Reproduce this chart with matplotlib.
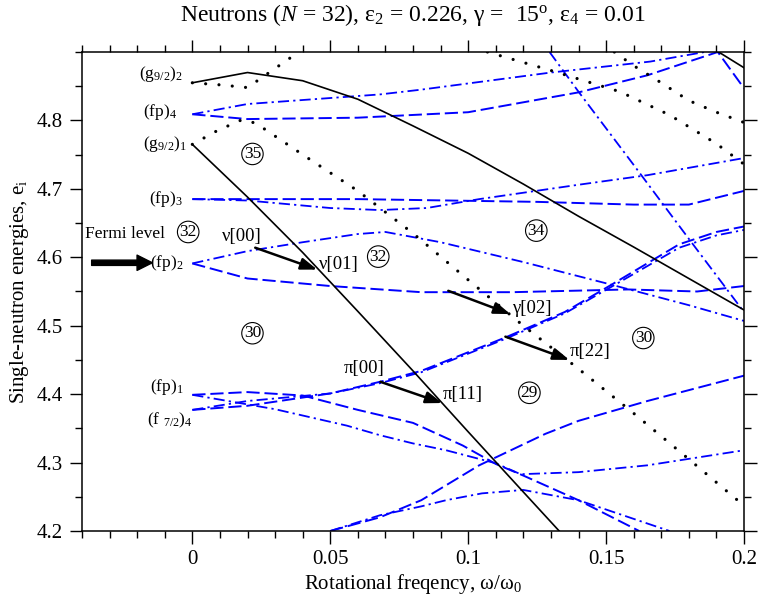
import matplotlib
matplotlib.use("Agg")
import matplotlib.pyplot as plt
from matplotlib.ticker import MultipleLocator, FixedLocator, FixedFormatter

plt.rcParams['font.family'] = ['Liberation Serif', 'DejaVu Serif']
plt.rcParams['mathtext.fontset'] = 'custom'
plt.rcParams['mathtext.rm'] = 'Liberation Serif'
plt.rcParams['mathtext.it'] = 'Liberation Serif:italic'
plt.rcParams['lines.scale_dashes'] = False

BLUE = '#0000ff'

# --- black solid (g9/2) levels ---
g1_x = [0, 0.02, 0.04, 0.06, 0.08, 0.1, 0.12, 0.133]
g1_y = [4.765, 4.688, 4.607, 4.521, 4.434, 4.345, 4.257, 4.2]
g2_x = [0, 0.02, 0.04, 0.06, 0.08, 0.1, 0.12, 0.14, 0.16, 0.18, 0.2]
g2_y = [4.855, 4.870, 4.858, 4.831, 4.792, 4.752, 4.707, 4.660, 4.615, 4.569, 4.523]
g3_x = [0.19, 0.2]
g3_y = [4.902, 4.877]

# --- black dotted (g9/2) partners ---
d1_x = [0, 0.01, 0.02, 0.03, 0.04]
d1_y = [4.855, 4.852, 4.848, 4.876, 4.904]
d2_x = [0, 0.009, 0.018, 0.023, 0.04, 0.06, 0.08, 0.1, 0.12, 0.14, 0.16, 0.18, 0.2]
d2_y = [4.765, 4.785, 4.801, 4.796, 4.750, 4.697, 4.635, 4.567, 4.500, 4.437, 4.372, 4.305, 4.237]
d3_x = [0.107, 0.13, 0.155, 0.173, 0.19, 0.2]
d3_y = [4.9, 4.873, 4.842, 4.808, 4.766, 4.736]
d4_x = [0.153, 0.16, 0.17, 0.18, 0.19, 0.2]
d4_y = [4.9, 4.880, 4.855, 4.829, 4.812, 4.797]

# --- blue dashed (fp) / (f7/2) levels ---
fp4a_x = [0, 0.02, 0.06, 0.1, 0.14, 0.165, 0.1905, 0.2]
fp4a_y = [4.809, 4.802, 4.804, 4.812, 4.841, 4.866, 4.900, 4.847]
fp3a_x = [0, 0.06, 0.125, 0.16, 0.18, 0.2]
fp3a_y = [4.685, 4.685, 4.681, 4.677, 4.677, 4.697]
fp2a_x = [0, 0.02, 0.05, 0.083, 0.116, 0.158, 0.183, 0.2]
fp2a_y = [4.591, 4.569, 4.558, 4.549, 4.549, 4.553, 4.550, 4.558]
fp1a_x = [0, 0.02, 0.04, 0.06, 0.08, 0.098, 0.11, 0.12, 0.14, 0.162]
fp1a_y = [4.399, 4.403, 4.398, 4.377, 4.358, 4.325, 4.298, 4.281, 4.245, 4.2]
f7a_x = [0, 0.02, 0.05, 0.068, 0.083, 0.113, 0.135, 0.152, 0.1765, 0.19, 0.2]
f7a_y = [4.377, 4.383, 4.401, 4.418, 4.434, 4.482, 4.520, 4.560, 4.619, 4.637, 4.645]
low_a_x = [0.05, 0.068, 0.083, 0.104, 0.128, 0.14, 0.165, 0.2]
low_a_y = [4.2, 4.220, 4.245, 4.296, 4.342, 4.361, 4.390, 4.427]

# --- blue dash-dot partners ---
fp4b_x = [0, 0.02, 0.068, 0.083, 0.13, 0.166, 0.19]
fp4b_y = [4.809, 4.824, 4.838, 4.845, 4.870, 4.886, 4.903]
steep_x = [0.1295, 0.14, 0.16, 0.18, 0.2]
steep_y = [4.9, 4.842, 4.735, 4.627, 4.52]
fp3b_x = [0, 0.02, 0.05, 0.068, 0.085, 0.104, 0.14, 0.165, 0.2]
fp3b_y = [4.685, 4.683, 4.672, 4.669, 4.672, 4.685, 4.706, 4.720, 4.745]
fp2b_x = [0, 0.02, 0.04, 0.06, 0.07, 0.09, 0.12, 0.15, 0.18, 0.2]
fp2b_y = [4.591, 4.609, 4.622, 4.634, 4.637, 4.622, 4.593, 4.562, 4.530, 4.507]
fp1b_x = [0, 0.01, 0.03, 0.056, 0.068, 0.08, 0.092, 0.11, 0.119, 0.14, 0.165, 0.2]
fp1b_y = [4.399, 4.392, 4.378, 4.354, 4.340, 4.328, 4.318, 4.299, 4.283, 4.286, 4.296, 4.318]
f7b_x = [0, 0.02, 0.05, 0.068, 0.083, 0.113, 0.135, 0.152, 0.1765, 0.19, 0.2]
f7b_y = [4.377, 4.390, 4.401, 4.416, 4.432, 4.480, 4.518, 4.557, 4.614, 4.632, 4.640]
low_b_x = [0.05, 0.068, 0.083, 0.092, 0.105, 0.12, 0.14, 0.173]
low_b_y = [4.2, 4.223, 4.236, 4.245, 4.255, 4.260, 4.245, 4.2]

# level labels at omega = 0
lev_names = ['(g$_{9/2}$)$_2$', '(fp)$_4$', '(g$_{9/2}$)$_1$', '(fp)$_3$',
             '(fp)$_2$', '(fp)$_1$', '(f $_{7/2}$)$_4$']
lev_y = [4.868, 4.812, 4.765, 4.685, 4.592, 4.41, 4.362]
lev_x = [-0.0036, -0.0054, -0.0018, -0.0033, -0.0033, -0.0033, 0.0]

# circled particle numbers
circ_txt = ['35', '32', '32', '34', '30', '30', '29']
circ_x = [0.0218, -0.0015, 0.0674, 0.1247, 0.0218, 0.1635, 0.1222]
circ_y = [4.751, 4.637, 4.601, 4.639, 4.489, 4.482, 4.402]

# configuration arrows: (start, end) and labels
arr_x0 = [0.0228, 0.0928, 0.1135, 0.0682]
arr_y0 = [4.614, 4.551, 4.484, 4.418]
arr_x1 = [0.0453, 0.1153, 0.1367, 0.0906]
arr_y1 = [4.582, 4.517, 4.450, 4.387]
cfg_txt = ['ν[00]', 'ν[01]', 'γ[02]', 'π[22]', 'π[00]', 'π[11]']
cfg_x = [0.0178, 0.053, 0.123, 0.1443, 0.0624, 0.098]
cfg_y = [4.630, 4.590, 4.525, 4.462, 4.437, 4.399]

fig = plt.figure(figsize=(7.6, 6.05), dpi=100)
ax = fig.add_axes([82 / 760, 1 - 531 / 605, (744 - 82) / 760, (531 - 52) / 605])

dash = dict(color=BLUE, lw=1.4, dashes=(9.5, 3.5))
dashdot = dict(color=BLUE, lw=1.3, dashes=(8, 3, 1.6, 3))
dots = dict(color='black', lw=2.3, dashes=(0.01, 9.6), dash_capstyle='round')
solid = dict(color='black', lw=1.2)

for xs, ys in [(fp4a_x, fp4a_y), (fp3a_x, fp3a_y), (fp2a_x, fp2a_y),
               (fp1a_x, fp1a_y), (f7a_x, f7a_y), (low_a_x, low_a_y)]:
    ax.plot(xs, ys, **dash)
for xs, ys in [(fp4b_x, fp4b_y), (steep_x, steep_y), (fp3b_x, fp3b_y),
               (fp2b_x, fp2b_y), (fp1b_x, fp1b_y), (f7b_x, f7b_y), (low_b_x, low_b_y)]:
    ax.plot(xs, ys, **dashdot)
for xs, ys in [(d1_x, d1_y), (d2_x, d2_y), (d3_x, d3_y), (d4_x, d4_y)]:
    ax.plot(xs, ys, **dots)
for xs, ys in [(g1_x, g1_y), (g2_x, g2_y), (g3_x, g3_y)]:
    ax.plot(xs, ys, **solid)

ax.set_xlim(-0.04, 0.2)
ax.set_ylim(4.2, 4.9)

# labels of the levels
for t, x, y in zip(lev_names, lev_x, lev_y):
    ax.text(x, y, t, ha='right', va='center', fontsize=12.5)

for t, x, y in zip(circ_txt, circ_x, circ_y):
    ax.text(x, y, t, ha='center', va='center', fontsize=12.5,
            bbox=dict(boxstyle='circle,pad=0.12', fc='none', ec='black', lw=0.8))

for x0, y0, x1, y1 in zip(arr_x0, arr_y0, arr_x1, arr_y1):
    ax.annotate('', xy=(x1, y1), xytext=(x0, y0),
                arrowprops=dict(arrowstyle='-|>,head_length=0.7,head_width=0.25',
                                color='black', lw=1.8, mutation_scale=14,
                                shrinkA=0, shrinkB=0))
for t, x, y in zip(cfg_txt, cfg_x, cfg_y):
    ax.text(x, y, t, ha='center', va='center', fontsize=13.5)

# Fermi level arrow
ax.text(-0.0388, 4.634, 'Fermi level', ha='left', va='center', fontsize=12.5)
ax.annotate('', xy=(-0.0145, 4.592), xytext=(-0.0365, 4.592),
            arrowprops=dict(width=3.8, headwidth=11, headlength=11, color='black',
                            shrink=0))

# axes and ticks
ax.xaxis.set_major_locator(FixedLocator([0, 0.05, 0.1, 0.15, 0.2]))
ax.xaxis.set_major_formatter(FixedFormatter(['0', '0.05', '0.1', '0.15', '0.2']))
ax.xaxis.set_minor_locator(MultipleLocator(0.01))
ax.set_yticks([4.2, 4.3, 4.4, 4.5, 4.6, 4.7, 4.8])
ax.yaxis.set_minor_locator(MultipleLocator(0.05))
ax.tick_params(which='both', direction='out', top=True, right=True,
               labelsize=15, width=1.0)
ax.tick_params(which='major', length=9, pad=5)
ax.tick_params(which='minor', length=5)
for s in ax.spines.values():
    s.set_linewidth(1.1)

ax.set_xlabel('Rotational freqency, ω/ω$_0$', fontsize=15, labelpad=2)
ax.set_ylabel('Single-neutron energies, e$_{\\rm i}$', fontsize=15, labelpad=4)
ax.set_title('Neutrons ($\\it{N}$ = 32), ε$_2$ = 0.226, γ =  15$^{\\rm o}$, ε$_4$ = 0.01',
             fontsize=17, pad=22)

fig.savefig('out.png', dpi=100)
